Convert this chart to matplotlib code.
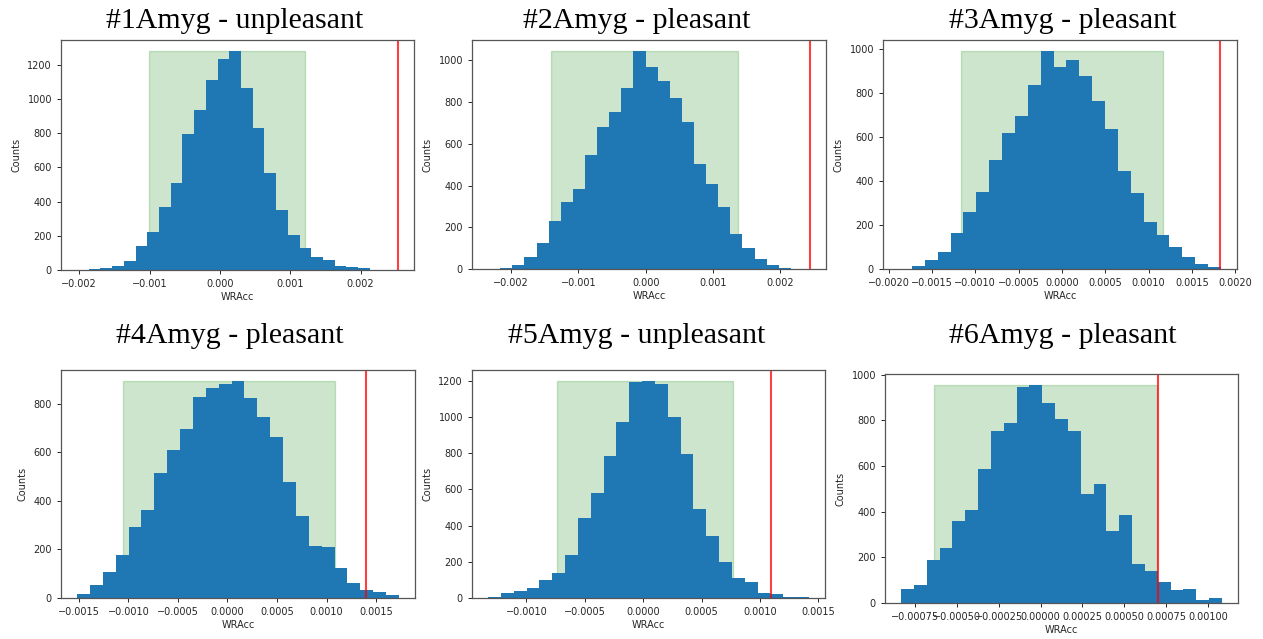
import numpy as np
import matplotlib
matplotlib.use("Agg")
import matplotlib.pyplot as plt
from matplotlib.ticker import MultipleLocator

# six permutation histograms (25 bins each)
titles = ["#1Amyg - unpleasant", "#2Amyg - pleasant", "#3Amyg - pleasant",
          "#4Amyg - pleasant", "#5Amyg - unpleasant", "#6Amyg - pleasant"]

counts = [
    [1, 5, 12, 25, 55, 142, 224, 367, 507, 798, 936, 1110, 1233, 1282, 1067,
     831, 570, 353, 205, 131, 74, 57, 25, 18, 10],
    [1, 3, 19, 59, 126, 232, 323, 382, 546, 682, 752, 870, 1046, 971, 901,
     822, 707, 505, 407, 297, 166, 99, 50, 19, 6],
    [1, 14, 41, 79, 163, 260, 351, 495, 617, 694, 835, 992, 921, 949, 877,
     762, 638, 446, 346, 212, 154, 101, 53, 21, 9],
    [18, 52, 109, 175, 291, 364, 516, 611, 697, 827, 866, 882, 894, 823, 744,
     662, 477, 339, 213, 208, 122, 62, 31, 23, 12],
    [7, 29, 37, 53, 99, 140, 235, 443, 583, 783, 970, 1196, 1200, 1182, 1002,
     794, 494, 344, 198, 110, 88, 29, 24, 6, 6],
    [60, 79, 187, 242, 361, 407, 588, 753, 790, 946, 956, 875, 807, 753, 477,
     523, 314, 385, 172, 140, 93, 58, 61, 14, 23],
]

# histogram range (min, max of the permuted WRAcc values)
hist_range = [(-0.00203, 0.00213), (-0.00234, 0.002156), (-0.00188, 0.001835),
              (-0.001518, 0.001731), (-0.001329, 0.00142), (-0.000831, 0.001081)]

# observed WRAcc (red line) and the green interval
observed = [0.00253, 0.002439, 0.001827, 0.001399, 0.001091, 0.000702]
band = [(-0.001007, 0.001215), (-0.001403, 0.001373), (-0.001165, 0.001165),
        (-0.001055, 0.001086), (-0.00074, 0.000766), (-0.000637, 0.000696)]

x_step = [0.001, 0.001, 0.0005, 0.0005, 0.0005, 0.00025]

W, H = 1263, 639
fig = plt.figure(figsize=(W / 100, H / 100), dpi=100)

# axes boxes in pixels: left, top, right, bottom
boxes = [(61, 40, 414, 270), (472, 40, 826, 269), (883, 40, 1237, 269),
         (61, 370, 415, 598), (472, 370, 825, 598), (885, 374, 1238, 603)]
title_pos = [(235, 28), (637, 28), (1063, 28), (230, 343), (637, 343), (1063, 343)]

txt = "#262626"
for i in range(6):
    l, t, r, b = boxes[i]
    ax = fig.add_axes([l / W, 1 - b / H, (r - l) / W, (b - t) / H])

    edges = np.linspace(hist_range[i][0], hist_range[i][1], len(counts[i]) + 1)
    ax.hist(edges[:-1], bins=edges, weights=counts[i], color="#1f77b4")
    top = max(counts[i])
    ax.fill_between(band[i], 0, top, color="green", alpha=0.2, zorder=0)
    ax.axvline(observed[i], color="red", alpha=0.75, lw=1.5)

    ax.xaxis.set_major_locator(MultipleLocator(x_step[i]))
    ax.yaxis.set_major_locator(MultipleLocator(200))
    ax.tick_params(labelsize=7, colors=txt, length=3, width=0.7)
    for s in ax.spines.values():
        s.set_color("#555555")
        s.set_linewidth(0.9)
    ax.set_xlabel("WRAcc", fontsize=7, color=txt, labelpad=2)
    ax.set_ylabel("Counts", fontsize=7, color=txt)

    tx, ty = title_pos[i]
    fig.text(tx / W, 1 - ty / H, titles[i], ha="center", va="baseline",
             fontsize=21.5, family=["Liberation Serif", "DejaVu Serif"])

fig.savefig("out.png", dpi=100, facecolor="white")
